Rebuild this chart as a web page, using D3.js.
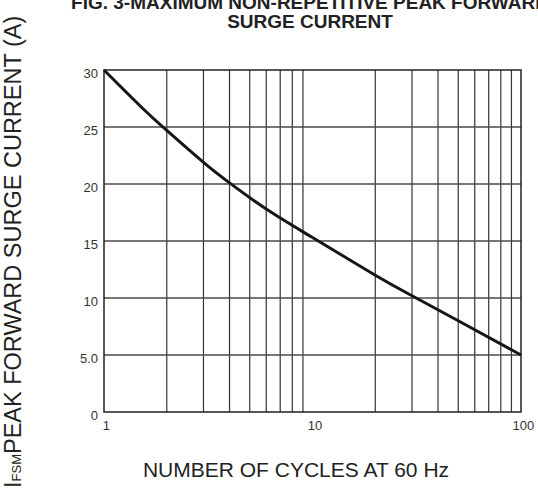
<!DOCTYPE html>
<html>
<head>
<meta charset="utf-8">
<script src="https://cdn.jsdelivr.net/npm/d3@7"></script>
<style>
  body { margin: 0; background: #fff; }
  svg { display: block; font-family: "Liberation Sans", Arial, sans-serif; }
</style>
</head>
<body>
<svg id="chart" width="538" height="490"></svg>
<script>
// values
const cycles = [1, 1.5, 2, 3, 4, 6, 10, 20, 30, 50, 100];
const current = [30, 26.8, 24.7, 21.9, 20.1, 17.8, 15.3, 12.0, 10.2, 8.0, 5.0];

const yTicks = [0, 5, 10, 15, 20, 25, 30];
const yTickLabels = ["0", "5.0", "10", "15", "20", "25", "30"];
const xTicks = [1, 10, 100];
const xTickLabels = ["1", "10", "100"];
const xGrid = [2, 3, 4, 5, 6, 7, 8, 9, 20, 30, 40, 50, 60, 70, 80, 90];

const svg = d3.select("#chart");
const plotL = 104, plotR = 521, plotT = 70, plotB = 412;

const x = d3.scaleLog().domain([1, 100]).range([plotL, plotR]);
const y = d3.scaleLinear().domain([0, 30]).range([plotB, plotT]);

// grid
svg.append("g")
    .selectAll("line")
    .data(xGrid)
    .join("line")
    .attr("x1", d => x(d)).attr("x2", d => x(d))
    .attr("y1", plotT).attr("y2", plotB)
    .attr("stroke", "#333")
    .attr("stroke-width", 1.2);

svg.append("g")
    .selectAll("line")
    .data(yTicks.slice(1, -1))
    .join("line")
    .attr("x1", plotL).attr("x2", plotR)
    .attr("y1", d => y(d)).attr("y2", d => y(d))
    .attr("stroke", "#4a4a4a")
    .attr("stroke-width", 1.3);

// frame
svg.append("rect")
    .attr("x", plotL).attr("y", plotT)
    .attr("width", plotR - plotL).attr("height", plotB - plotT)
    .attr("fill", "none")
    .attr("stroke", "#222")
    .attr("stroke-width", 1.5);

// axes, labels only
const yAxis = d3.axisLeft(y)
    .tickValues(yTicks)
    .tickSize(0)
    .tickPadding(6)
    .tickFormat((d, i) => yTickLabels[i]);
const gy = svg.append("g").attr("transform", `translate(${plotL},0)`).call(yAxis);

const xAxis = d3.axisBottom(x)
    .tickValues(xTicks)
    .tickSize(0)
    .tickPadding(9)
    .tickFormat((d, i) => xTickLabels[i]);
const gx = svg.append("g").attr("transform", `translate(0,${plotB})`).call(xAxis);

[gx, gy].forEach(g => {
    g.select(".domain").remove();
    g.selectAll("text")
        .attr("font-family", "Liberation Sans, Arial, sans-serif")
        .attr("font-size", 13)
        .attr("fill", "#333");
});
gy.selectAll("text").attr("dy", "0.55em");
gx.selectAll("text").attr("dx", "0.15em");

// curve
const line = d3.line()
    .x((d, i) => x(cycles[i]))
    .y(d => y(d))
    .curve(d3.curveNatural);

svg.append("path")
    .datum(current)
    .attr("d", line)
    .attr("fill", "none")
    .attr("stroke", "#161616")
    .attr("stroke-width", 3);

// titles
const title = svg.append("text")
    .attr("text-anchor", "middle")
    .attr("font-weight", "bold")
    .attr("font-size", 19)
    .attr("fill", "#222");
title.append("tspan").attr("x", 310).attr("y", 9).text("FIG. 3-MAXIMUM NON-REPETITIVE PEAK FORWARD");
title.append("tspan").attr("x", 310).attr("y", 28).text("SURGE CURRENT");

svg.append("text")
    .attr("x", 296).attr("y", 477)
    .attr("text-anchor", "middle")
    .attr("font-size", 21)
    .attr("fill", "#222")
    .text("NUMBER OF CYCLES AT 60 Hz");

const ylab = svg.append("text")
    .attr("transform", "translate(21,488) rotate(-90)")
    .attr("font-size", 23.5)
    .attr("fill", "#222");
ylab.append("tspan").text("I");
ylab.append("tspan").attr("font-size", 13).text("FSM");
ylab.append("tspan").text("PEAK FORWARD SURGE CURRENT (A)");
</script>
</body>
</html>
